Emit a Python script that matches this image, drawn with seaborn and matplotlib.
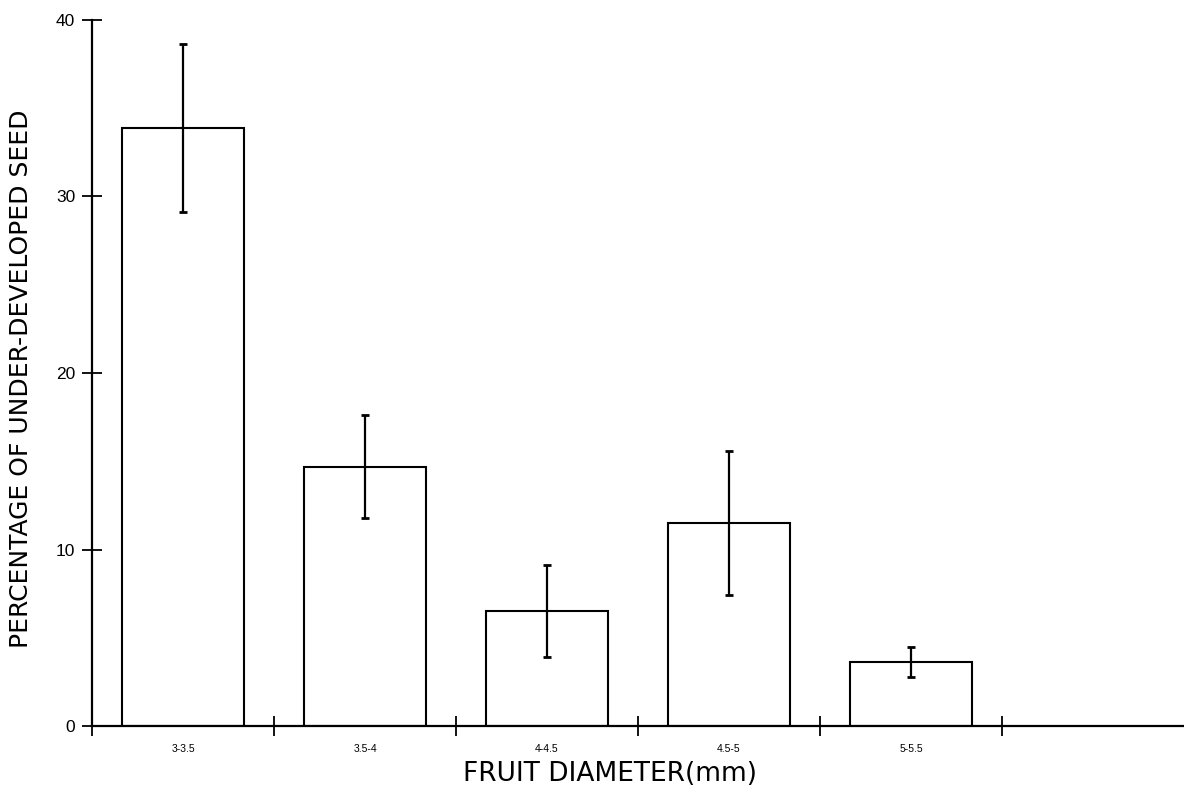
import matplotlib
matplotlib.use("Agg")
import matplotlib.pyplot as plt
import seaborn as sns
import pandas as pd

categories = ["3-3.5", "3.5-4", "4-4.5", "4.5-5", "5-5.5"]
values = [33.9, 14.7, 6.5, 11.5, 3.6]
errors = [4.75, 2.9, 2.6, 4.1, 0.85]
yticks = [0, 10, 20, 30, 40]

sns.set_theme(style="ticks")
plt.rcParams["font.family"] = ["DejaVu Sans"]

df = pd.DataFrame({"diameter": categories, "pct": values})

fig = plt.figure(figsize=(11.84, 7.98), dpi=100)
ax = fig.add_axes([92 / 1184, 1 - 726 / 798, 1 - 92 / 1184, (726 - 20) / 798])

sns.barplot(data=df, x="diameter", y="pct", ax=ax, color="white",
            edgecolor="black", linewidth=1.5, width=0.675, errorbar=None)
ax.errorbar(range(len(values)), values, yerr=errors, fmt="none",
            ecolor="black", elinewidth=1.6, capsize=3, capthick=2)

ax.set_xlim(-0.5, 5.5)
ax.set_ylim(0, 40)
ax.set_yticks(yticks)
ax.set_yticklabels([str(v) for v in yticks], fontsize=12.5, family="Liberation Sans")
ax.set_xticks(range(len(categories)))
ax.set_xticklabels(categories, fontsize=7.5, family="Liberation Sans")
ax.set_xticks([i - 0.5 for i in range(len(categories) + 1)], minor=True)
ax.tick_params(axis="x", which="major", length=0, pad=13, labelcolor="black")
ax.tick_params(axis="x", which="minor", direction="inout", length=14, width=1.3, color="black")
ax.tick_params(axis="y", direction="inout", length=14, width=1.3, color="black", pad=5,
               labelcolor="black")

for s in ["top", "right"]:
    ax.spines[s].set_visible(False)
for s in ["left", "bottom"]:
    ax.spines[s].set_color("black")
    ax.spines[s].set_linewidth(1.6)

ax.set_xlabel("FRUIT DIAMETER(mm)", fontsize=19, color="black")
ax.xaxis.set_label_coords((610 - 92) / 1092, -0.05)
ax.set_ylabel("PERCENTAGE OF UNDER-DEVELOPED SEED", fontsize=18, color="black")
ax.yaxis.set_label_coords(-0.054, (726 - 379) / 706)

fig.savefig("out.png", dpi=100, facecolor="white")
